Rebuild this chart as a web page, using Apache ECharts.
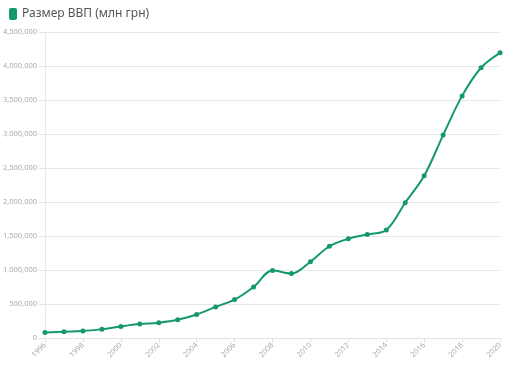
<!DOCTYPE html>
<html><head><meta charset="utf-8">
<script src="https://cdn.jsdelivr.net/npm/echarts@6/dist/echarts.min.js"></script>
<style>html,body{margin:0;padding:0;background:#fff}#c{width:512px;height:367px}</style>
</head><body><div id="c"></div>
<script>
const years = ['1996','1997','1998','1999','2000','2001','2002','2003','2004','2005','2006','2007','2008','2009','2010','2011','2012','2013','2014','2015','2016','2017','2018','2019','2020'];
const gdp = [81519,93365,102593,130442,170070,204190,225810,267344,345113,457323,565029,751106,990819,947049,1120585,1349178,1459096,1522657,1586915,1988544,2385367,2983882,3560596,3974564,4194102];
const seriesName = 'Размер ВВП (млн грн)';
const color = '#14996b';
const chart = echarts.init(document.getElementById('c'));
const font = 'Noto Sans';
chart.setOption({
  animation:false,
  textStyle:{fontFamily:font},
  legend:{left:4,top:3,itemWidth:8,itemHeight:12,itemGap:6,icon:'roundRect',
    textStyle:{fontFamily:font,fontSize:12,color:'#555'},data:[seriesName]},
  grid:{left:45,right:12,top:32,bottom:29,containLabel:false,outerBoundsMode:'none'},
  xAxis:{type:'category',data:years,boundaryGap:false,
    axisLine:{lineStyle:{color:'#e3e3e3'}},
    axisTick:{interval:1,length:5,lineStyle:{color:'#e3e3e3'}},
    axisLabel:{interval:1,rotate:45,fontSize:7.5,color:'#aaa',margin:6,fontFamily:font}},
  yAxis:{type:'value',min:0,max:4500000,interval:500000,
    axisLine:{show:true,lineStyle:{color:'#e8e8e8'}},
    axisTick:{show:true,length:6,lineStyle:{color:'#e3e3e3'}},
    splitLine:{lineStyle:{color:'#e8e8e8'}},
    axisLabel:{fontSize:7.5,color:'#aaa',margin:8,fontFamily:font,
      formatter:v=>v.toLocaleString('en-US')}},
  series:[{name:seriesName,type:'line',data:gdp,smooth:0.35,color:color,
    lineStyle:{width:2,color:color},symbol:'circle',symbolSize:5,
    itemStyle:{color:color}}]
});
</script></body></html>
